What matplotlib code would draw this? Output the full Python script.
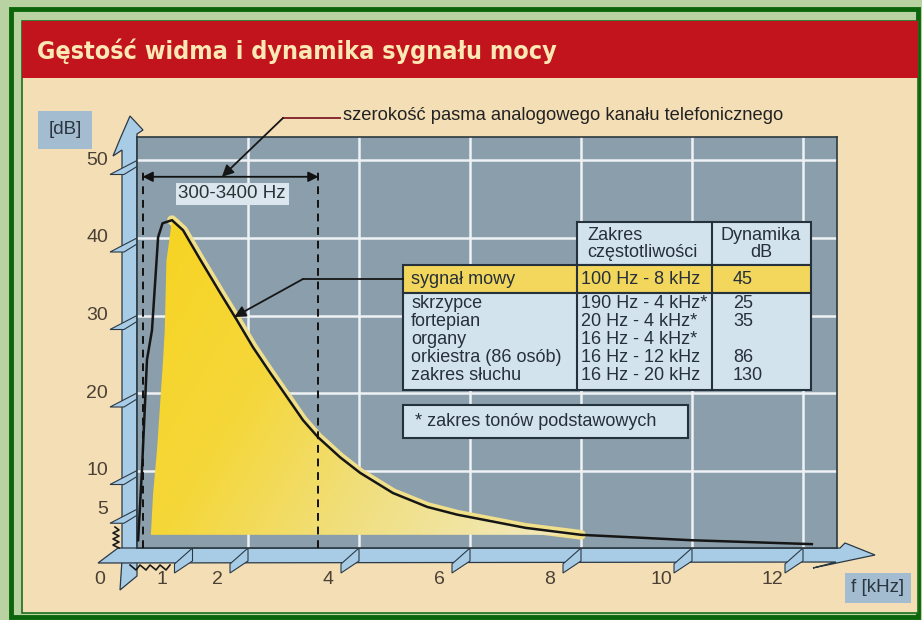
import numpy as np
import matplotlib
matplotlib.use("Agg")
from matplotlib import pyplot as plt
from matplotlib import font_manager
from matplotlib.patches import Rectangle, Polygon
from matplotlib.colors import LinearSegmentedColormap

plt.rcParams['font.family'] = ['Liberation Sans', 'DejaVu Sans']

W, H = 922, 620

curve_khz = [0.02, 0.09, 0.18, 0.27, 0.38, 0.46, 0.63, 0.83, 1.14, 1.50, 1.80,
             2.09, 2.40, 2.70, 2.99, 3.26, 3.66, 4.02, 4.61, 5.23, 5.77, 7.0,
             8.0, 10.0, 12.16]
curve_db = [1.0, 10.1, 24.3, 28.1, 40.1, 41.9, 42.3, 41.0, 37.2, 32.9, 29.4,
            25.9, 22.6, 19.5, 16.5, 14.3, 11.7, 9.7, 7.1, 5.3, 4.3, 2.6,
            1.7, 1.0, 0.5]
yellow_left_khz = [0.25, 0.29, 0.36, 0.47, 0.50, 0.53, 0.63]
yellow_left_db = [1.7, 7.0, 12.6, 24.3, 28.1, 37.0, 42.3]
yellow_base_db = 1.7
yellow_end_khz = 8.0
band_edges_khz = [0.1, 3.27]
band_label = '300-3400 Hz'

x_ticks = [0, 1, 2, 4, 6, 8, 10, 12]
x_grid = [2, 4, 6, 8, 10, 12]
y_ticks = [5, 10, 20, 30, 40, 50]
y_grid = [10, 20, 30, 40, 50]

title = 'Gęstość widma i dynamika sygnału mocy'
band_note = 'szerokość pasma analogowego kanału telefonicznego'
table_head = ['Zakres\nczęstotliwości', 'Dynamika\ndB']
speech_row = ['sygnał mowy', '100 Hz - 8 kHz', '45']
table_names = ['skrzypce', 'fortepian', 'organy', 'orkiestra (86 osób)', 'zakres słuchu']
table_ranges = ['190 Hz - 4 kHz*', '20 Hz - 4 kHz*', '16 Hz - 4 kHz*', '16 Hz - 12 kHz', '16 Hz - 20 kHz']
table_dyn = ['25', '35', '', '86', '130']
footnote = '* zakres tonów podstawowych'

names = {f.name for f in font_manager.fontManager.ttflist}
title_font = 'Liberation Sans Narrow' if 'Liberation Sans Narrow' in names else 'DejaVu Sans'

fig = plt.figure(figsize=(W / 100, H / 100), dpi=100)
fig.patch.set_facecolor('#b8d2a2')

bg = fig.add_axes([0, 0, 1, 1])
bg.set_xlim(0, W)
bg.set_ylim(H, 0)
bg.axis('off')

# ramka i panel
bg.add_patch(Rectangle((11, 9), 907, 608, facecolor='none', edgecolor='#0b660b', lw=3.5))
bg.add_patch(Rectangle((22, 21), 896, 592, facecolor='#f4deb6', edgecolor='#1d6e1d', lw=1.2))
bg.add_patch(Rectangle((22, 21), 896, 57, facecolor='#c2141d', edgecolor='none'))
bg.text(37, 51, title, fontsize=18, fontweight='bold', family=title_font,
        fontstretch='condensed', color='#fbe8b4', va='center', ha='left')

# wykres
px_l, px_r, px_t, px_b = 137, 837, 137, 548
ax = fig.add_axes([px_l / W, 1 - px_b / H, (px_r - px_l) / W, (px_b - px_t) / H])
ax.set_zorder(2)
ax.set_facecolor('#8b9eac')
xmax = (px_r - px_l) / 55.5
ymax = (px_b - px_t) / 7.75
ax.set_xticks(x_grid)
ax.set_yticks(y_grid)
ax.tick_params(length=0, labelbottom=False, labelleft=False)
ax.grid(True, color='#eef2f4', lw=1.8)
ax.set_axisbelow(True)
for s in ax.spines.values():
    s.set_color('#2c3a40')
    s.set_linewidth(1.2)

# widmo
glow = [(x, y) for x, y in zip(curve_khz, curve_db) if 0.63 <= x <= yellow_end_khz]
ax.plot([p[0] for p in glow], [p[1] for p in glow], color='#f1e08a', lw=7,
        solid_capstyle='round', zorder=2)
poly_pts = list(zip(yellow_left_khz, yellow_left_db)) + glow[1:] + \
    [(yellow_end_khz, yellow_base_db)]
poly = Polygon(poly_pts, closed=True, facecolor='none', edgecolor='none')
ax.add_patch(poly)
cmap = LinearSegmentedColormap.from_list('yel', ['#f7d424', '#f5d73a', '#f0df80', '#f2e8b6'])
gx, gy = np.meshgrid(np.linspace(0, 1, 200), np.linspace(0, 1, 100))
grad = np.clip(0.8 * gx + 0.35 * (1 - gy) - 0.05, 0, 1)
img = ax.imshow(grad, extent=[0.2, 8.0, 1.5, 43], cmap=cmap, vmin=0, vmax=1,
                aspect='auto', origin='lower', zorder=3)
img.set_clip_path(poly)
ax.set_xlim(0, xmax)
ax.set_ylim(0, ymax)
ax.plot(curve_khz, curve_db, color='#161616', lw=1.8, zorder=4)


def to_px(x, y):
    dx, dy = ax.transData.transform((x, y))
    return dx, H - dy


# pasmo telefoniczne
ax.vlines(band_edges_khz, 0, 48.5, colors='#111111', linestyles=(0, (4, 3)), lw=1.4, zorder=4)
ax.annotate('', xy=(band_edges_khz[0], 47.9), xytext=(band_edges_khz[1], 47.9),
            arrowprops=dict(arrowstyle='<|-|>', color='#111111', lw=1.3,
                            shrinkA=0, shrinkB=0, mutation_scale=15), zorder=5)
ax.text(sum(band_edges_khz) / 2 + 0.03, 45.7, band_label, fontsize=13.5, color='#2a3338',
        ha='center', va='center', zorder=5,
        bbox=dict(boxstyle='square,pad=0.15', facecolor='#dbe6ee', edgecolor='none'))

# osie (niebieskie belki)
blue, edge = '#a8cce6', '#2b3945'
bg.add_patch(Polygon([(122, 575), (122, 150), (113, 156), (120, 139), (130, 116),
                      (143, 130), (137, 134), (137, 548)], facecolor=blue, edgecolor=edge, lw=0.9))
bg.add_patch(Polygon([(122, 560), (120, 590), (137, 576), (137, 560)],
                     facecolor=blue, edgecolor=edge, lw=0.9))
bg.add_patch(Polygon([(98, 563), (118, 548), (840, 548), (845, 543), (875, 555),
                      (813, 568), (836, 562)], facecolor=blue, edgecolor=edge, lw=0.9))

lab_col = '#4b4034'
for v in x_ticks:
    x, _ = to_px(v, 0)
    if v > 0:
        bg.add_patch(Polygon([(x, 548), (x - 18, 564), (x - 18, 573), (x, 561)],
                             facecolor=blue, edgecolor=edge, lw=0.8))
    bg.text(x - 31 if v > 0 else 100, 580, str(v), fontsize=14, color=lab_col,
            ha='center', va='center')
for v in y_ticks:
    _, y = to_px(0, v)
    bg.add_patch(Polygon([(137, y), (110, y + 14), (124, y + 14), (137, y + 6)],
                         facecolor=blue, edgecolor=edge, lw=0.8))
    bg.text(108, y, str(v), fontsize=14, color=lab_col, ha='right', va='center')

bg.text(65, 130, '[dB]', fontsize=13.5, color='#2a3540', ha='center', va='center',
        bbox=dict(boxstyle='square,pad=0.55', facecolor='#a3bccf', edgecolor='none'))
bg.text(878, 588, 'f [kHz]', fontsize=13.5, color='#2a3540', ha='center', va='center',
        bbox=dict(boxstyle='square,pad=0.35', facecolor='#a3bccf', edgecolor='none'))

# nakladka: tabela, opisy
ov = fig.add_axes([0, 0, 1, 1])
ov.set_zorder(3)
ov.patch.set_alpha(0)
ov.set_xlim(0, W)
ov.set_ylim(H, 0)
ov.axis('off')

# zygzaki przy poczatku ukladu
ov.plot([115, 119, 113, 119, 113, 119, 113, 119], [527, 530, 533, 536, 539, 542, 545, 548],
        color='#1a1a1a', lw=1.2)
ov.plot([130, 136, 140, 146, 150, 156, 160, 166, 170], [565, 570, 565, 570, 565, 570, 565, 570, 565],
        color='#1a1a1a', lw=1.2)

ov.text(343, 116, band_note, fontsize=13.2, color='#222222', ha='left', va='center')
tip = to_px(1.53, 47.9)
ov.plot([340, 283], [118, 118], color='#8a2a35', lw=1.4)
ov.annotate('', xy=tip, xytext=(283, 118),
            arrowprops=dict(arrowstyle='-|>', color='#161616', lw=1.3, shrinkA=0, shrinkB=0,
                            mutation_scale=17))
tip2 = to_px(1.75, 29.8)
ov.plot([403, 303], [279, 279], color='#161616', lw=1.3)
ov.annotate('', xy=tip2, xytext=(303, 279),
            arrowprops=dict(arrowstyle='-|>', color='#161616', lw=1.3, shrinkA=0, shrinkB=0,
                            mutation_scale=17))

tcol = '#d3e3ee'
tedge = '#26323b'
cx = [403, 577, 712, 811]
ov.add_patch(Rectangle((cx[1], 222), cx[3] - cx[1], 43, facecolor=tcol, edgecolor=tedge, lw=1.5))
ov.plot([cx[2], cx[2]], [222, 265], color=tedge, lw=1.5)
ov.add_patch(Rectangle((cx[0], 265), cx[3] - cx[0], 28, facecolor='#f3d65c', edgecolor=tedge, lw=1.5))
ov.add_patch(Rectangle((cx[0], 293), cx[3] - cx[0], 97, facecolor=tcol, edgecolor=tedge, lw=1.5))
for c in cx[1:3]:
    ov.plot([c, c], [265, 390], color=tedge, lw=1.5)

fs = 13
tc = '#25303a'
ov.text(587, 244, table_head[0], fontsize=fs, color=tc, ha='left', va='center', linespacing=0.95)
ov.text(761, 244, table_head[1], fontsize=fs, color=tc, ha='center', va='center', linespacing=0.95)
ov.text(411, 279, speech_row[0], fontsize=fs, color=tc, ha='left', va='center')
ov.text(581, 279, speech_row[1], fontsize=fs, color=tc, ha='left', va='center')
ov.text(733, 279, speech_row[2], fontsize=fs, color=tc, ha='left', va='center')
row_y = [304, 322, 340, 358, 376]
for y, n, r, d in zip(row_y, table_names, table_ranges, table_dyn):
    ov.text(411, y, n, fontsize=fs, color=tc, ha='left', va='center')
    ov.text(581, y, r, fontsize=fs, color=tc, ha='left', va='center')
    ov.text(733, y, d, fontsize=fs, color=tc, ha='left', va='center')

ov.add_patch(Rectangle((403, 405), 285, 33, facecolor=tcol, edgecolor=tedge, lw=1.5))
ov.text(415, 422, footnote, fontsize=fs, color=tc, ha='left', va='center')

fig.savefig('out.png', dpi=100)
